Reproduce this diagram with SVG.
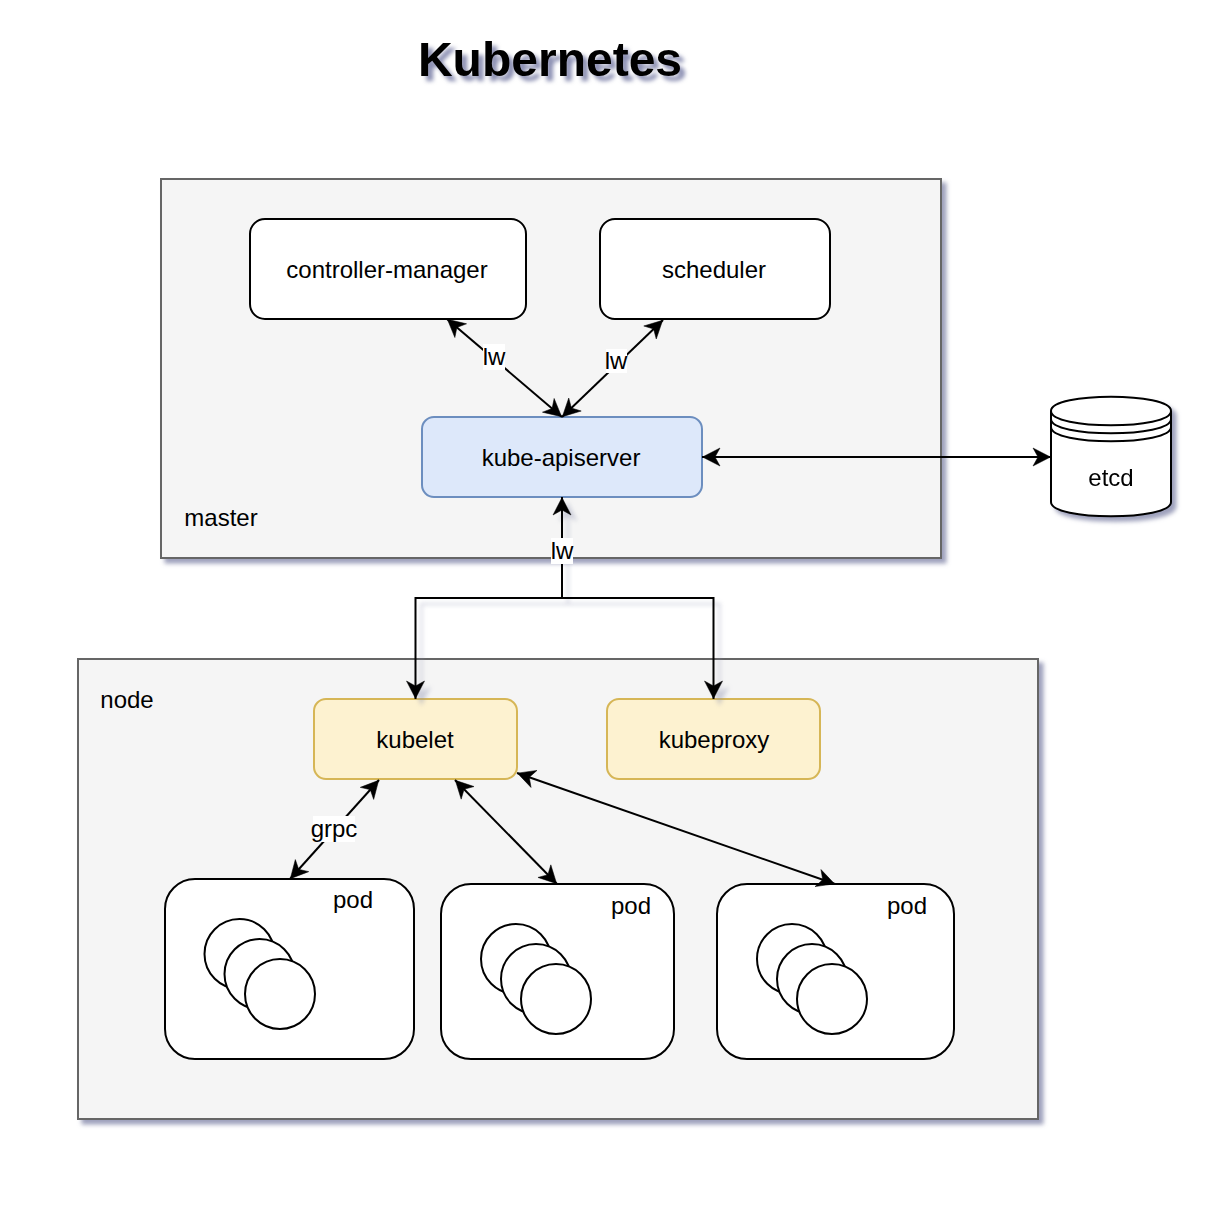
<svg xmlns="http://www.w3.org/2000/svg" width="1222" height="1218" viewBox="0 0 1222 1218">
<style>
text{font-family:"Liberation Sans",Arial,sans-serif;font-size:24px;fill:#000;text-anchor:middle}
.box{fill:#fff;stroke:#000;stroke-width:2}
.grp{fill:#f5f5f5;stroke:#666;stroke-width:2}
.yel{fill:#fdf2d0;stroke:#d6b656;stroke-width:2}
.blu{fill:#dde8fa;stroke:#6c8ebf;stroke-width:2}
.c{fill:none;stroke:#000;stroke-width:2}
.lb{fill:#fff;stroke:none}
</style>
<defs>
<filter id="sh" x="-10%" y="-10%" width="120%" height="120%" color-interpolation-filters="sRGB"><feDropShadow dx="4.500" dy="4.500" stdDev="2.800" flood-color="#8d90b0" flood-opacity="0.85"/></filter>
<filter id="shl" filterUnits="userSpaceOnUse" x="0" y="0" width="1222" height="1218" color-interpolation-filters="sRGB"><feDropShadow dx="6" dy="6" stdDev="3" flood-color="#8d90b0" flood-opacity="0.4"/></filter>
<filter id="sht" x="-10%" y="-30%" width="120%" height="170%" color-interpolation-filters="sRGB"><feDropShadow dx="5" dy="5" stdDev="3.500" flood-color="#6a6f9c" flood-opacity="0.8"/></filter>
<marker id="a" markerUnits="userSpaceOnUse" markerWidth="20" markerHeight="20" refX="18" refY="10" orient="auto-start-reverse" overflow="visible"><path d="M17.500,10 L0,1 L5,10 L0,19 Z" fill="#000" stroke="#000" stroke-width="0.500"/></marker>
</defs>
<g id="title"><text x="550" y="76" filter="url(#sht)" style="font-size:48px;font-weight:bold">Kubernetes</text></g>
<g id="master"><rect class="grp" x="161" y="179" width="780" height="379" filter="url(#sh)"/><text x="221" y="526">master</text></g>
<g id="node"><rect class="grp" x="78" y="659" width="960" height="460" filter="url(#sh)"/><text x="127" y="708">node</text></g>
<g id="controller-manager"><rect class="box" x="250" y="219" width="276" height="100" rx="15"/><text x="387" y="278">controller-manager</text></g>
<g id="scheduler"><rect class="box" x="600" y="219" width="230" height="100" rx="15"/><text x="714" y="278">scheduler</text></g>
<g id="kube-apiserver"><rect class="blu" x="422" y="417" width="280" height="80" rx="12"/><text x="561" y="466">kube-apiserver</text></g>
<g id="etcd" filter="url(#sh)"><path class="box" d="M1051,411 C1051,392 1171,392 1171,411 L1171,502 C1171,521 1051,521 1051,502 Z"/><path class="c" d="M1051,411 C1051,430 1171,430 1171,411 M1051,419 C1051,438 1171,438 1171,419 M1051,427 C1051,446 1171,446 1171,427"/><text x="1111" y="486">etcd</text></g>
<g id="kubelet"><rect class="yel" x="314" y="699" width="203" height="80" rx="12"/><text x="415" y="748">kubelet</text></g>
<g id="kubeproxy"><rect class="yel" x="607" y="699" width="213" height="80" rx="12"/><text x="714" y="748">kubeproxy</text></g>
<g id="pod1"><rect class="box" x="165" y="879" width="249" height="180" rx="30"/><text x="353" y="908">pod</text><circle class="box" cx="239.500" cy="954" r="35"/><circle class="box" cx="259.500" cy="974" r="35"/><circle class="box" cx="280" cy="994" r="35"/></g>
<g id="pod2"><rect class="box" x="441" y="884" width="233" height="175" rx="30"/><text x="631" y="914">pod</text><circle class="box" cx="516" cy="959" r="35"/><circle class="box" cx="536" cy="979" r="35"/><circle class="box" cx="556" cy="999" r="35"/></g>
<g id="pod3"><rect class="box" x="717" y="884" width="237" height="175" rx="30"/><text x="907" y="914">pod</text><circle class="box" cx="792" cy="959" r="35"/><circle class="box" cx="812" cy="979" r="35"/><circle class="box" cx="832" cy="999" r="35"/></g>
<g id="connectors">
<path class="c" d="M447,319 L562,417" marker-start="url(#a)" marker-end="url(#a)"/>
<path class="c" d="M663,320 L562,417" marker-start="url(#a)" marker-end="url(#a)"/>
<path class="c" d="M702,457 L1051,457" marker-start="url(#a)" marker-end="url(#a)"/>
<g filter="url(#shl)"><path class="c" d="M562,497 L562,598 L415.500,598 L415.500,699" marker-start="url(#a)" marker-end="url(#a)"/>
<path class="c" d="M562,497 L562,598 L713.500,598 L713.500,699" marker-end="url(#a)"/></g>
<path class="c" d="M379,780 L290,879" marker-start="url(#a)" marker-end="url(#a)"/>
<path class="c" d="M455,780 L557,884" marker-start="url(#a)" marker-end="url(#a)"/>
<path class="c" d="M517,773 L835,884" marker-start="url(#a)" marker-end="url(#a)"/>
<g id="labels">
<rect class="lb" x="483" y="344" width="22" height="26"/><text x="494" y="365">lw</text>
<rect class="lb" x="606" y="349" width="21" height="24"/><text x="616" y="369">lw</text>
<rect class="lb" x="551" y="538" width="22" height="26"/><text x="562" y="559">lw</text>
<rect class="lb" x="313" y="816" width="42" height="26"/><text x="334" y="837">grpc</text>
</g>
</g>
</svg>
